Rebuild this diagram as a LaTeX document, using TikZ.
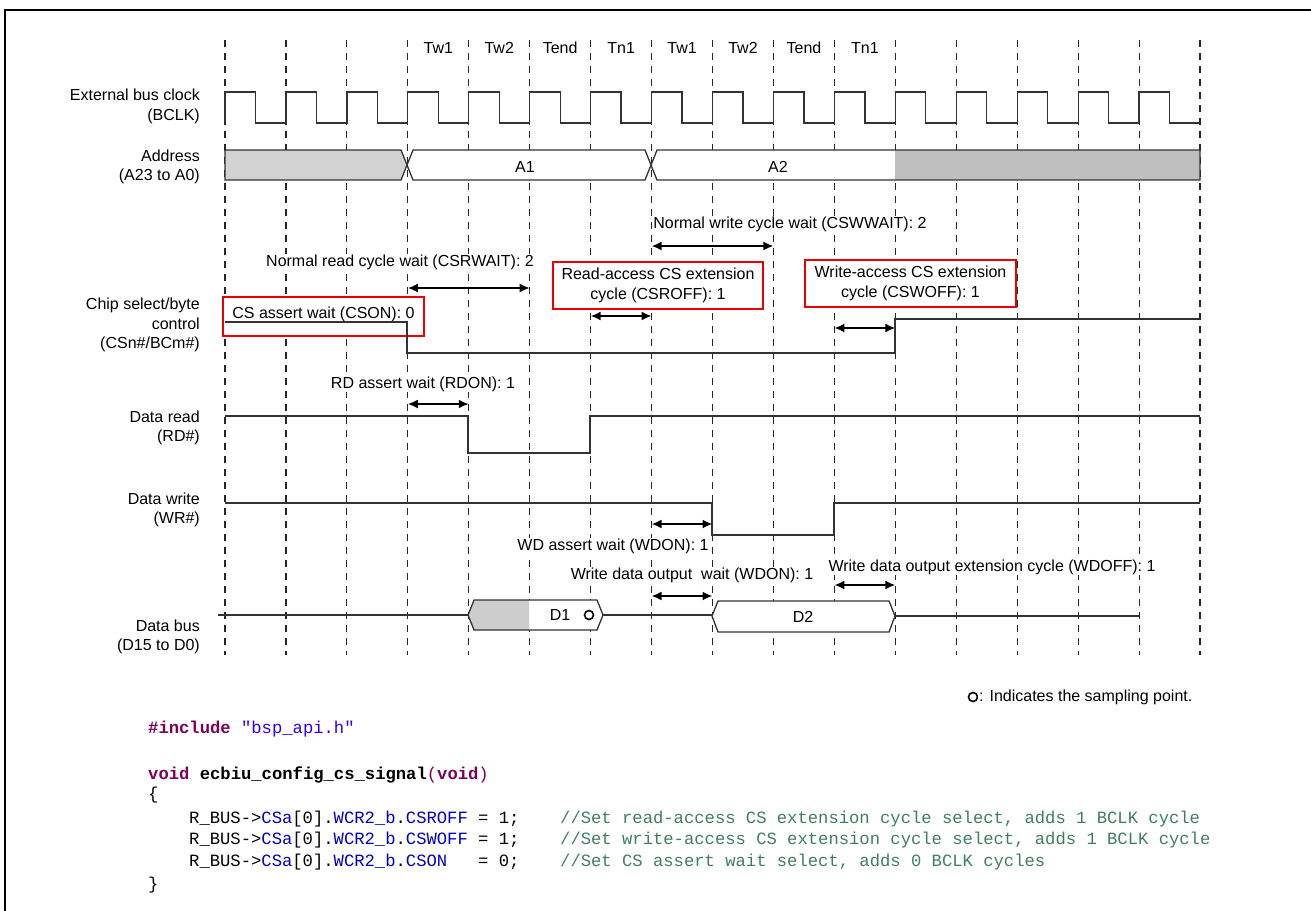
\documentclass[tikz,border=0pt]{standalone}
\usepackage{fontspec}
\setmainfont{Liberation Sans}
\setmonofont{Liberation Mono}
\usetikzlibrary{arrows.meta, positioning}
\definecolor{kwpurple}{RGB}{127, 0, 85}
\definecolor{strblue}{RGB}{42, 0, 255}
\definecolor{fldblue}{RGB}{0, 0, 192}
\definecolor{cmtgreen}{RGB}{63, 127, 95}
\definecolor{boxred}{RGB}{238, 0, 0}

\begin{document}
\begin{tikzpicture}[x=1pt, y=-1pt,
  lbl/.style={font=\fontsize{16}{19.5}\selectfont, inner sep=1pt, fill=white},
  signame/.style={lbl, align=right, anchor=east},
  sig/.style={line width=1.3pt, black!80},
  gridln/.style={black!85, line width=1.2pt, dash pattern=on 7pt off 6pt},
  dim/.style={{Latex[length=10pt,width=9pt]}-{Latex[length=10pt,width=9pt]}, line width=1.8pt},
  redbox/.style={lbl, draw=boxred, line width=2.6pt, align=center},
  code/.style={font=\ttfamily\fontsize{17.2}{21}\selectfont, anchor=base west, inner sep=0pt},
  smp/.style={circle, draw, line width=1.6pt, minimum size=9pt, inner sep=0pt, fill=white}
]
  \useasboundingbox (0,0) rectangle (1311,910);
  \draw[line width=2pt] (5,915) -- (5,10) -- (1315,10);

  % grid of bus cycles
  \foreach \i in {0,...,16} {
    \coordinate (t\i) at ({225+\i*60.94},0);
    \draw[gridln] (t\i |- 0,40) -- (t\i |- 0,655);
  }
  \foreach \lb [count=\k from 3] in {Tw1,Tw2,Tend,Tn1,Tw1,Tw2,Tend,Tn1}
    \node[lbl] (cyc\k) at ({225+(\k+0.5)*60.94},48) {\lb};

  % signal names
  \node[signame] (bclk) at (201,106.5) {External bus clock\\(BCLK)};
  \node[signame] (addr) at (201,167) {Address\\(A23 to A0)};
  \node[signame] (csn) at (201,325) {Chip select/byte\\control\\(CSn\#/BCm\#)};
  \node[signame] (rdn) at (201,428) {Data read\\(RD\#)};
  \node[signame] (wrn) at (201,510) {Data write\\(WR\#)};
  \node[signame] (dbus) at (201,637) {Data bus\\(D15 to D0)};

  % clock
  \draw[sig] (225,123) foreach \i in {0,...,15} {
    -- ++(0,-31) -- ++(30.47,0) -- ++(0,31) -- ++(30.47,0) };

  % address
  \draw[sig, fill=gray!35] (225,150) -- (401,150) -- (407,165) -- (401,180) -- (225,180) -- cycle;
  \draw[sig, fill=white] (407,165) -- (413,150) -- (645,150) -- (651,165) -- (645,180) -- (413,180) -- cycle;
  \fill[white] (657,150) rectangle (895,180);
  \fill[gray!50] (895,150) rectangle (1200,180);
  \draw[sig] (651,165) -- (657,150) -- (1200,150) -- (1200,180) -- (657,180) -- cycle;
  \node[lbl] (a1) at (525,167) {A1};
  \node[lbl] (a2) at (778,167) {A2};

  % chip select
  \node[lbl] (cswwait) at (790,224) {Normal write cycle wait (CSWWAIT): 2};
  \draw[dim] (t7 |- 0,246) -- (t9 |- 0,246);
  \node[lbl] (csrwait) at (400,262) {Normal read cycle wait (CSRWAIT): 2};
  \draw[dim] (t3 |- 0,288) -- (t5 |- 0,288);
  \node[redbox, minimum width=210pt, minimum height=47pt] (csroff) at (658,285.5)
    {Read-access CS extension\\cycle (CSROFF): 1};
  \draw[dim] (t6 |- 0,316) -- (t7 |- 0,316);
  \node[redbox, minimum width=211pt, minimum height=47pt] (cswoff) at (910.5,283.5)
    {Write-access CS extension\\cycle (CSWOFF): 1};
  \draw[dim] (t10 |- 0,328) -- (t11 |- 0,328);
  \node[redbox, minimum width=201pt, minimum height=39pt, text height=18pt, text depth=15pt]
    (cson) at (323.5,316.5) {CS assert wait (CSON): 0};
  \draw[sig] (225,322) -- (407,322) -- (407,353) -- (895,353) -- (895,319) -- (1200,319);

  % read strobe
  \node[lbl] (rdon) at (423,384) {RD assert wait (RDON): 1};
  \draw[dim] (t3 |- 0,404) -- (t4 |- 0,404);
  \draw[sig] (225,416) -- (468,416) -- (468,453) -- (590,453) -- (590,416) -- (1200,416);

  % write strobe
  \draw[sig] (225,503) -- (712,503) -- (712,535) -- (834,535) -- (834,503) -- (1200,503);
  \draw[dim] (t7 |- 0,524) -- (t8 |- 0,524);
  \node[lbl] (wdon) at (613,546) {WD assert wait (WDON): 1};

  % data bus
  \node[lbl] (wdout) at (692,575) {Write data output\ \ wait (WDON): 1};
  \draw[dim] (t7 |- 0,596) -- (t8 |- 0,596);
  \node[lbl] (wdoff) at (992,567) {Write data output extension cycle (WDOFF): 1};
  \draw[dim] (t10 |- 0,585) -- (t11 |- 0,585);
  \draw[sig] (218,615) -- (468,615);
  \fill[white] (468,615) -- (474,600) -- (597,600) -- (603,615) -- (597,630) -- (474,630) -- cycle;
  \fill[gray!40] (468,615) -- (474,600) -- (529,600) -- (529,630) -- (474,630) -- cycle;
  \draw[sig] (468,615) -- (474,600) -- (597,600) -- (603,615) -- (597,630) -- (474,630) -- cycle;
  \node[lbl] (d1) at (560,615) {D1};
  \node[smp] (d1s) at (589,615) {};
  \draw[sig] (603,615) -- (712,615);
  \draw[sig, fill=white] (712,616) -- (718,601) -- (889,601) -- (895,616) -- (889,632) -- (718,632) -- cycle;
  \node[lbl] (d2) at (803,617) {D2};
  \draw[sig] (895,616) -- (1139,616);

  % legend
  \node[smp] (legc) at (973,697) {};
  \node[lbl, anchor=west] (legt) at (978,697) {: Indicates the sampling point.};

  % code listing
  \node[code] (inc) at (148,733)
    {\textcolor{kwpurple}{\textbf{\#include}} \textcolor{strblue}{"bsp\_api.h"}};
  \node[code] (fn) at (148,779)
    {\textcolor{kwpurple}{\textbf{void}} \textbf{ecbiu\_config\_cs\_signal}\textcolor{kwpurple}{(\textbf{void})}};
  \node[code] (ob) at (148,799) {\{};
  \node[code] (l1) at (189,823)
    {R\_BUS->\textcolor{fldblue}{CSa}[0].\textcolor{fldblue}{WCR2\_b}.\textcolor{fldblue}{CSROFF} = 1;};
  \node[code] (l2) at (189,844)
    {R\_BUS->\textcolor{fldblue}{CSa}[0].\textcolor{fldblue}{WCR2\_b}.\textcolor{fldblue}{CSWOFF} = 1;};
  \node[code] (l3) at (189,866)
    {R\_BUS->\textcolor{fldblue}{CSa}[0].\textcolor{fldblue}{WCR2\_b}.\textcolor{fldblue}{CSON}\ \ \ = 0;};
  \node[code, text=cmtgreen] (c1) at (560,823)
    {//Set read-access CS extension cycle select, adds 1 BCLK cycle};
  \node[code, text=cmtgreen] (c2) at (560,844)
    {//Set write-access CS extension cycle select, adds 1 BCLK cycle};
  \node[code, text=cmtgreen] (c3) at (560,866)
    {//Set CS assert wait select, adds 0 BCLK cycles};
  \node[code] (cb) at (148,889) {\}};
\end{tikzpicture}
\end{document}
